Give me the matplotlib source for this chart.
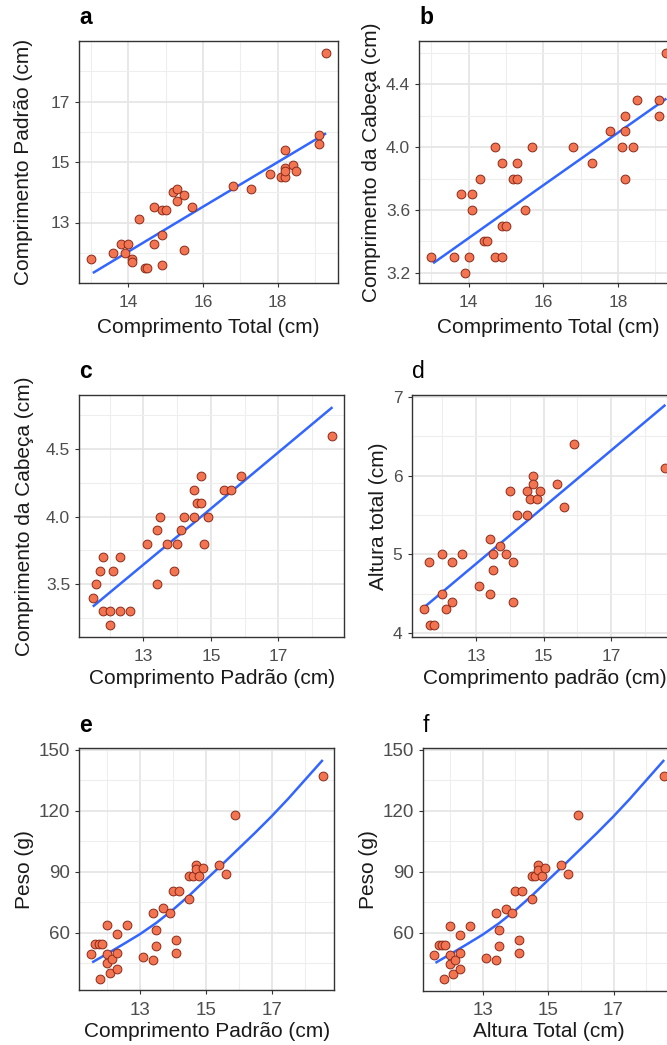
import matplotlib

matplotlib.use("Agg")
import matplotlib.pyplot as plt

W, H = 667, 1045

# panel a: total length vs standard length
tl_a = [13.0, 13.6, 13.8, 14.0, 13.9, 14.1, 14.1, 14.3, 14.45, 14.5, 14.7, 14.7, 14.9, 15.0,
        14.9, 14.9, 15.2, 15.3, 15.3, 15.5, 15.5, 15.7, 16.8, 17.3, 17.8, 18.1, 18.2, 18.2,
        18.2, 18.2, 18.4, 18.5, 19.1, 19.1, 19.3]
sl_a = [11.8, 12.0, 12.3, 12.3, 12.0, 11.8, 11.7, 13.1, 11.5, 11.5, 13.5, 12.3, 13.4, 13.4,
        12.6, 11.6, 14.0, 14.1, 13.7, 13.9, 12.1, 13.5, 14.2, 14.1, 14.6, 14.5, 14.5, 14.8,
        15.4, 14.7, 14.9, 14.7, 15.9, 15.6, 18.6]
smooth_a_x = [13.05, 16.0, 19.3]
smooth_a_y = [11.33, 13.52, 15.95]

# panel b: total length vs head length
tl_b = [13.0, 13.6, 13.8, 13.9, 14.0, 14.1, 14.1, 14.3, 14.4, 14.5, 14.7, 14.7, 14.9, 14.9,
        15.0, 14.9, 15.2, 15.3, 15.3, 15.5, 15.7, 16.8, 17.3, 17.8, 18.1, 18.2, 18.2, 18.2,
        18.4, 18.5, 19.1, 19.1, 19.3]
head_b = [3.3, 3.3, 3.7, 3.2, 3.3, 3.7, 3.6, 3.8, 3.4, 3.4, 4.0, 3.3, 3.9, 3.5,
          3.5, 3.3, 3.8, 3.8, 3.9, 3.6, 4.0, 4.0, 3.9, 4.1, 4.0, 4.2, 4.1, 3.8,
          4.0, 4.3, 4.3, 4.2, 4.6]
smooth_b_x = [13.05, 16.0, 19.3]
smooth_b_y = [3.26, 3.757, 4.31]

# panel c: standard length vs head length
sl_c = [11.5, 11.6, 11.7, 11.8, 11.8, 12.0, 12.0, 12.1, 12.3, 12.3, 12.6, 13.1, 13.4, 13.4,
        13.5, 13.7, 13.9, 14.0, 14.1, 14.2, 14.5, 14.5, 14.6, 14.7, 14.7, 14.8, 14.9, 15.4,
        15.6, 15.9, 18.6]
head_c = [3.4, 3.5, 3.6, 3.7, 3.3, 3.3, 3.2, 3.6, 3.7, 3.3, 3.3, 3.8, 3.9, 3.5,
          4.0, 3.8, 3.6, 3.8, 3.9, 4.0, 4.2, 4.0, 4.1, 4.1, 4.3, 3.8, 4.0, 4.2,
          4.2, 4.3, 4.6]
smooth_c_x = [11.5, 15.0, 18.6]
smooth_c_y = [3.335, 4.06, 4.81]

# panel d: standard length vs body height
sl_d = [11.45, 11.6, 11.65, 11.75, 12.0, 12.0, 12.1, 12.3, 12.3, 12.6, 13.1, 13.4, 13.4, 13.5,
        13.5, 13.7, 13.9, 14.0, 14.1, 14.1, 14.2, 14.5, 14.5, 14.6, 14.7, 14.7, 14.8, 14.9,
        15.4, 15.6, 15.9, 18.6]
height_d = [4.3, 4.9, 4.1, 4.1, 5.0, 4.5, 4.3, 4.9, 4.4, 5.0, 4.6, 5.2, 4.5, 5.0,
            4.8, 5.1, 5.0, 5.8, 4.9, 4.4, 5.5, 5.5, 5.8, 5.7, 6.0, 5.9, 5.7, 5.8,
            5.9, 5.6, 6.4, 6.1]
smooth_d_x = [11.45, 15.0, 18.6]
smooth_d_y = [4.32, 5.6, 6.9]

# panels e and f: standard length vs weight (f shows the same points)
sl_e = [11.5, 11.65, 11.75, 11.85, 11.8, 12.0, 12.0, 12.0, 12.1, 12.15, 12.3, 12.3, 12.3, 12.6,
        13.1, 13.4, 13.4, 13.5, 13.5, 13.7, 13.9, 14.0, 14.1, 14.1, 14.2, 14.5, 14.5, 14.6,
        14.7, 14.7, 14.8, 14.9, 15.4, 15.6, 15.9, 18.55]
weight_e = [49.3, 54.2, 54.2, 54.2, 37.3, 63.6, 49.3, 44.8, 39.9, 46.8, 59.1, 50.1, 42.2, 63.6,
            47.8, 69.8, 46.5, 61.3, 53.4, 71.9, 69.8, 80.5, 56.3, 50.1, 80.5, 76.7, 88.0, 88.0,
            93.4, 91.1, 88.0, 91.8, 93.3, 88.9, 117.9, 137.1]
smooth_e_x = [11.55, 12.0, 12.5, 13.0, 13.5, 14.0, 14.5, 15.0, 15.5, 16.0, 16.5, 17.0, 17.5,
              18.0, 18.55]
smooth_e_y = [45.3, 49.5, 54.3, 59.2, 64.8, 71.2, 78.3, 86.0, 93.6, 101.4, 109.2, 117.3, 125.9,
              135.0, 145.0]

FILL = "#F37450"
EDGE = "#8B2A1A"
LINE = "#3366FF"


def place_axes(fig, left, top, right, bottom):
    return fig.add_axes([left / W, 1 - bottom / H, (right - left) / W, (bottom - top) / H])


def main() -> None:
    plt.rcParams["font.family"] = ["Liberation Sans", "DejaVu Sans"]
    fig = plt.figure(figsize=(W / 100, H / 100), dpi=100)

    panels = [
        dict(tag="a", box=(79, 41, 337.7, 283), x=tl_a, y=sl_a, sx=smooth_a_x, sy=smooth_a_y,
             xlim=(12.68, 19.61), ylim=(11.0, 19.0),
             xt=[14, 16, 18], xm=[13, 15, 17, 19],
             yt=[13, 15, 17], ytl=["13", "15", "17"], ym=[12, 14, 16, 18],
             xlabel="Comprimento Total (cm)", ylabel="Comprimento Padrão (cm)",
             base=333, ycx=24, bold=True, tsize=12.5),
        dict(tag="b", box=(419.3, 41, 678, 283), x=tl_b, y=head_b, sx=smooth_b_x, sy=smooth_b_y,
             xlim=(12.68, 19.61), ylim=(3.134, 4.677),
             xt=[14, 16, 18], xm=[13, 15, 17, 19],
             yt=[3.2, 3.6, 4.0, 4.4], ytl=["3.2", "3.6", "4.0", "4.4"], ym=[3.4, 3.8, 4.2, 4.6],
             xlabel="Comprimento Total (cm)", ylabel="Comprimento da Cabeça (cm)",
             base=333, ycx=371.7, bold=True, tsize=12.5),
        dict(tag="c", box=(79.3, 395, 344.3, 637.3), x=sl_c, y=head_c, sx=smooth_c_x, sy=smooth_c_y,
             xlim=(11.10, 18.95), ylim=(3.108, 4.90),
             xt=[13, 15, 17], xm=[12, 14, 16, 18],
             yt=[3.5, 4.0, 4.5], ytl=["3.5", "4.0", "4.5"], ym=[3.25, 3.75, 4.25, 4.75],
             xlabel="Comprimento Padrão (cm)", ylabel="Comprimento da Cabeça (cm)",
             base=684.3, ycx=25, bold=True, tsize=12.5),
        dict(tag="d", box=(411.7, 395, 677.6, 637.3), x=sl_d, y=height_d, sx=smooth_d_x, sy=smooth_d_y,
             xlim=(11.10, 18.96), ylim=(3.945, 7.025),
             xt=[13, 15, 17], xm=[12, 14, 16, 18],
             yt=[4, 5, 6, 7], ytl=["4", "5", "6", "7"], ym=[4.5, 5.5, 6.5],
             xlabel="Comprimento padrão (cm)", ylabel="Altura total (cm)",
             base=684.3, ycx=379, bold=False, tsize=12.5),
        dict(tag="e", box=(79.3, 748.3, 334.3, 990), x=sl_e, y=weight_e, sx=smooth_e_x, sy=smooth_e_y,
             xlim=(11.16, 18.90), ylim=(31.7, 150.75),
             xt=[13, 15, 17], xm=[12, 14, 16, 18],
             yt=[60, 90, 120, 150], ytl=["60", "90", "120", "150"], ym=[45, 75, 105, 135],
             xlabel="Comprimento Padrão (cm)", ylabel="Peso (g)",
             base=1036.7, ycx=24, bold=True, tsize=13.5),
        dict(tag="f", box=(422.7, 748.3, 675.6, 990.5), x=sl_e, y=weight_e, sx=smooth_e_x, sy=smooth_e_y,
             xlim=(11.16, 18.90), ylim=(31.7, 150.75),
             xt=[13, 15, 17], xm=[12, 14, 16, 18],
             yt=[60, 90, 120, 150], ytl=["60", "90", "120", "150"], ym=[45, 75, 105, 135],
             xlabel="Altura Total (cm)", ylabel="Peso (g)",
             base=1036.7, ycx=368.3, bold=False, tsize=13.5),
    ]

    for p in panels:
        left, top, right, bottom = p["box"]
        ax = place_axes(fig, left, top, right, bottom)
        ax.plot(p["sx"], p["sy"], color=LINE, lw=1.8, solid_capstyle="butt", zorder=2)
        ax.scatter(p["x"], p["y"], s=40, facecolor=FILL, edgecolor=EDGE, linewidth=0.7, zorder=3)

        ax.set_xlim(p["xlim"])
        ax.set_ylim(p["ylim"])
        ax.set_xticks(p["xt"], [str(v) for v in p["xt"]])
        ax.set_xticks(p["xm"], minor=True)
        ax.set_yticks(p["yt"], p["ytl"])
        ax.set_yticks(p["ym"], minor=True)

        ax.set_axisbelow(True)
        ax.grid(which="major", color="#E6E6E6", lw=1.3)
        ax.grid(which="minor", color="#EEEEEE", lw=0.8)
        ax.tick_params(which="minor", length=0)
        ax.tick_params(which="major", direction="out", length=3.1, width=0.8, color="#333333",
                       labelcolor="#4D4D4D", labelsize=p["tsize"])
        ax.tick_params(axis="x", pad=5.5)
        ax.tick_params(axis="y", pad=3.5)
        for spine in ax.spines.values():
            spine.set_color("#333333")
            spine.set_linewidth(1.0)

        width, height = right - left, bottom - top
        ax.set_xlabel(p["xlabel"], fontsize=15, color="#1A1A1A", va="baseline")
        ax.xaxis.set_label_coords(0.5, (bottom - p["base"]) / height)
        ax.set_ylabel(p["ylabel"], fontsize=15, color="#1A1A1A", va="center")
        ax.yaxis.set_label_coords((p["ycx"] - left) / width, 0.5)

        ax.set_title(p["tag"], loc="left", fontsize=16.5, pad=12,
                     fontweight="bold" if p["bold"] else "normal")

    fig.savefig("out.png", dpi=100)
    plt.close(fig)


if __name__ == "__main__":
    main()
